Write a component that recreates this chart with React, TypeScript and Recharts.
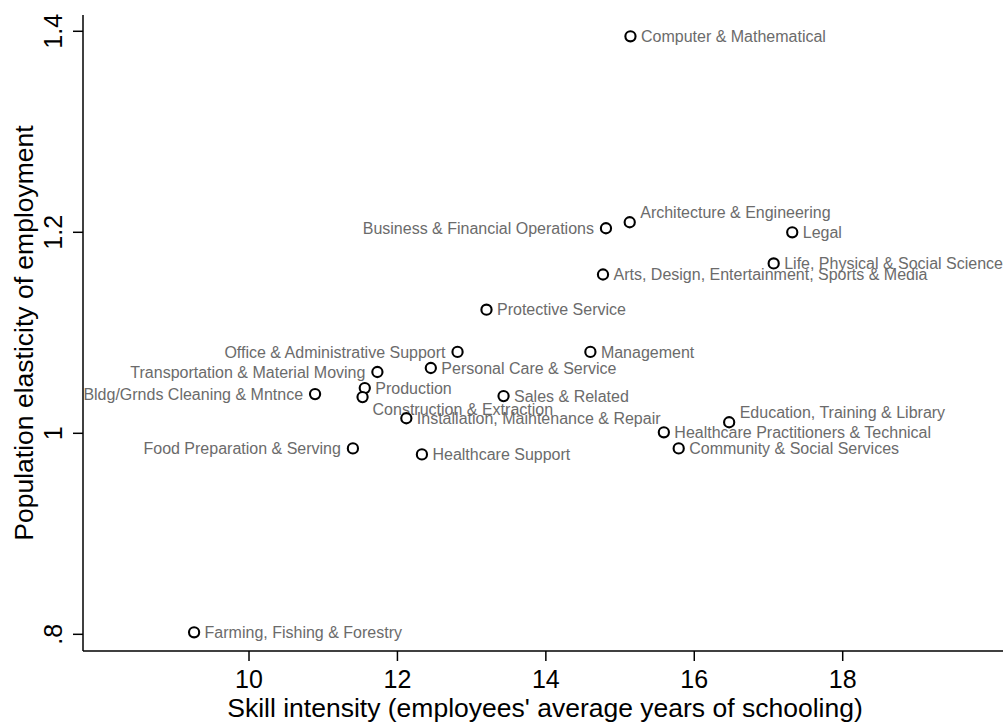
import React from 'react';
import { ScatterChart, Scatter, XAxis, YAxis } from 'recharts';

const occupations = [
  'Computer & Mathematical',
  'Architecture & Engineering',
  'Business & Financial Operations',
  'Legal',
  'Life, Physical & Social Science',
  'Arts, Design, Entertainment, Sports & Media',
  'Protective Service',
  'Office & Administrative Support',
  'Management',
  'Transportation & Material Moving',
  'Personal Care & Service',
  'Production',
  'Construction & Extraction',
  'Bldg/Grnds Cleaning & Mntnce',
  'Sales & Related',
  'Installation, Maintenance & Repair',
  'Food Preparation & Serving',
  'Healthcare Support',
  'Education, Training & Library',
  'Healthcare Practitioners & Technical',
  'Community & Social Services',
  'Farming, Fishing & Forestry',
];

const skillYears = [
  15.14, 15.13, 14.81, 17.32, 17.07, 14.77, 13.2, 12.81, 14.6, 11.73, 12.45,
  11.56, 11.53, 10.89, 13.43, 12.12, 11.4, 12.33, 16.47, 15.59, 15.79, 9.26,
];

const popElasticity = [
  1.395, 1.21, 1.204, 1.2, 1.169, 1.158, 1.123, 1.081, 1.081, 1.061, 1.065,
  1.045, 1.036, 1.039, 1.037, 1.015, 0.985, 0.979, 1.011, 1.001, 0.985, 0.802,
];

// label placement (clock position, Stata-style)
const labelClock = [
  3, 1, 9, 3, 3, 3, 3, 9, 3, 9, 3, 3, 4, 9, 3, 3, 9, 3, 1, 3, 3, 3,
];

const xTicks = [10, 12, 14, 16, 18];
const yTicks = [0.8, 1, 1.2, 1.4];
const yTickLabels = ['.8', '1', '1.2', '1.4'];

const xTitle = "Skill intensity (employees' average years of schooling)";
const yTitle = 'Population elasticity of employment';

const data = occupations.map((name, i) => ({
  name,
  x: skillYears[i],
  y: popElasticity[i],
  clock: labelClock[i],
}));

const FONT = '"Liberation Sans", Arial, Helvetica, sans-serif';
const LABEL_SIZE = 16;
const TICK_SIZE = 25;
const TITLE_SIZE = 26.5;

const PointShape = (props: any) => {
  const { cx, cy, payload } = props;
  if (cx == null || cy == null) return null;
  const clock = payload?.clock ?? 3;
  let tx = cx + 10.5;
  let ty = cy + LABEL_SIZE * 0.358;
  let anchor: 'start' | 'end' = 'start';
  if (clock === 9) {
    tx = cx - 12;
    anchor = 'end';
  } else if (clock === 1) {
    tx = cx + 10.5;
    ty = cy - 10 + LABEL_SIZE * 0.358;
  } else if (clock === 4) {
    tx = cx + 10;
    ty = cy + 12 + LABEL_SIZE * 0.358;
  }
  return (
    <g>
      <circle cx={cx} cy={cy} r={5.1} fill="#ffffff" stroke="#000000" strokeWidth={2.1} />
      <text
        x={tx}
        y={ty}
        textAnchor={anchor}
        fontSize={LABEL_SIZE}
        fill="#6b6b6b"
        fontFamily={FONT}
      >
        {payload?.name}
      </text>
    </g>
  );
};

const XTick = (props: any) => {
  const { x, y, payload } = props;
  return (
    <text x={x} y={y} dy={25} textAnchor="middle" fontSize={TICK_SIZE} fill="#000" fontFamily={FONT}>
      {payload.value}
    </text>
  );
};

const YTick = (props: any) => {
  const { x, y, payload } = props;
  const idx = yTicks.indexOf(payload.value);
  const label = idx >= 0 ? yTickLabels[idx] : String(payload.value);
  return (
    <text
      transform={`translate(${x},${y}) rotate(-90)`}
      x={0}
      y={0}
      textAnchor="middle"
      fontSize={TICK_SIZE}
      fill="#000"
      fontFamily={FONT}
    >
      {label}
    </text>
  );
};

const XTitle = (props: any) => {
  const vb = props.viewBox || { x: 83, y: 651, width: 920, height: 73 };
  return (
    <text
      x={vb.x + vb.width / 2 + 2}
      y={vb.y + 66}
      textAnchor="middle"
      fontSize={TITLE_SIZE}
      fill="#000"
      fontFamily={FONT}
    >
      {xTitle}
    </text>
  );
};

const YTitle = (props: any) => {
  const vb = props.viewBox || { x: 0, y: 15, width: 83, height: 636 };
  const cx = vb.x + 33;
  const cy = vb.y + vb.height / 2;
  return (
    <text
      transform={`translate(${cx},${cy}) rotate(-90)`}
      x={0}
      y={0}
      textAnchor="middle"
      fontSize={TITLE_SIZE}
      fill="#000"
      fontFamily={FONT}
    >
      {yTitle}
    </text>
  );
};

export default function App() {
  return (
    <div style={{ position: 'absolute', left: 0, top: 0, width: 1003, height: 724, background: '#fff' }}>
      <ScatterChart
        width={1003}
        height={724}
        margin={{ top: 15, right: 0, bottom: 0, left: 0 }}
        style={{ fontFamily: FONT, background: '#fff' }}
      >
        <XAxis
          type="number"
          dataKey="x"
          domain={[7.763, 20.16]}
          allowDataOverflow
          ticks={xTicks}
          height={73}
          tickSize={10}
          tickMargin={2}
          axisLine={{ stroke: '#000', strokeWidth: 1.5 }}
          tickLine={{ stroke: '#000', strokeWidth: 1.5 }}
          tick={<XTick />}
          label={<XTitle />}
        />
        <YAxis
          type="number"
          dataKey="y"
          domain={[0.7834, 1.4162]}
          allowDataOverflow
          ticks={yTicks}
          width={83}
          tickSize={10}
          tickMargin={11}
          axisLine={{ stroke: '#000', strokeWidth: 1.5 }}
          tickLine={{ stroke: '#000', strokeWidth: 1.5 }}
          tick={<YTick />}
          label={<YTitle />}
        />
        <Scatter data={data} isAnimationActive={false} shape={PointShape} />
      </ScatterChart>
    </div>
  );
}
